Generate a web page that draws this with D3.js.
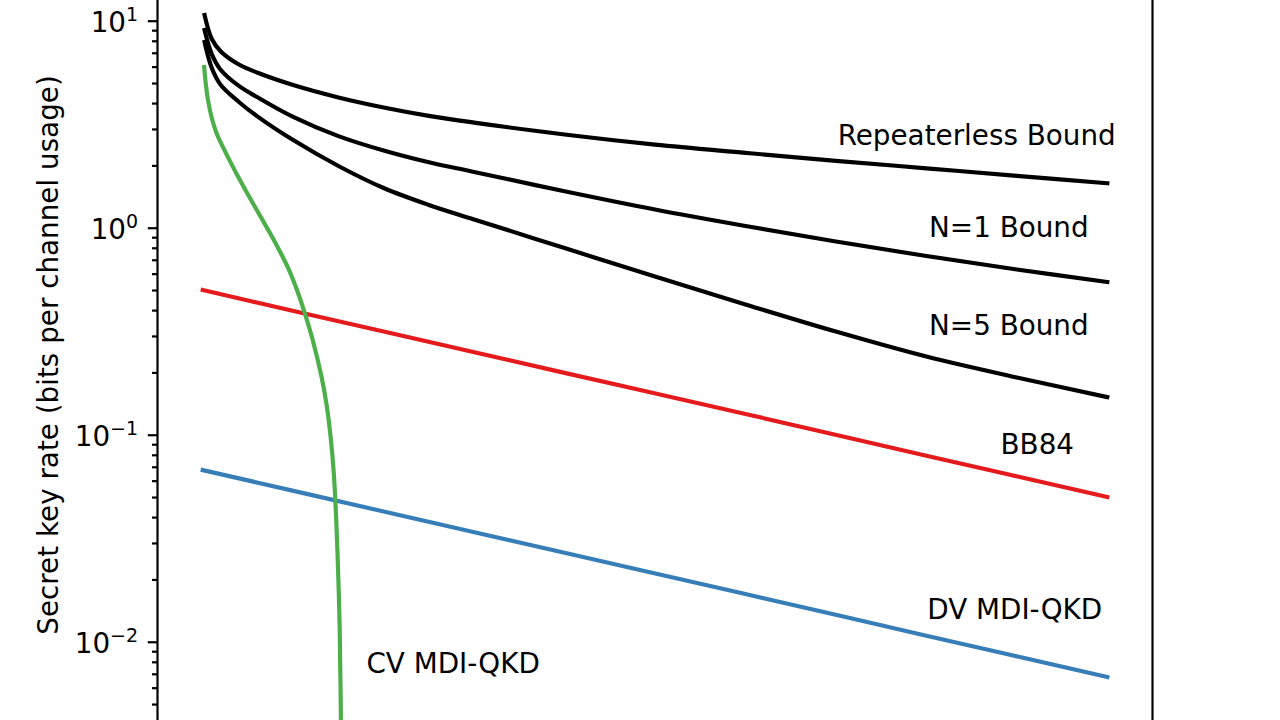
<!DOCTYPE html>
<html>
<head>
<meta charset="UTF-8">
<style>
  body { margin: 0; background: white; }
  svg { display: block; font-family: "DejaVu Sans", sans-serif; }
  .lbl { font-size: 27.8px; fill: black; }
  .tick text { font-size: 27.8px; fill: black; font-family: "DejaVu Sans", sans-serif; }
</style>
</head>
<body>
<svg></svg>
<script src="https://d3js.org/d3.v7.min.js"></script>
<script>

let width = 1280, height = 720;

// bounds, sampled along the (unlabelled) distance axis
let distance     = [0.1, 0.5, 1, 2, 3, 5, 7.5, 10, 12.5, 15, 20, 25, 30, 35, 40, 45, 50];
let repeaterless = [10.65, 8.16, 7.10, 6.14, 5.62, 4.89, 4.26, 3.81, 3.47, 3.22, 2.82, 2.52, 2.30, 2.105, 1.936, 1.781, 1.64];
let n1Bound      = [9.02, 6.90, 5.78, 4.84, 4.28, 3.43, 2.77, 2.36, 2.07, 1.86, 1.50, 1.224, 1.019, 0.858, 0.730, 0.628, 0.547];
let n5Bound      = [7.89, 5.91, 4.89, 4.05, 3.46, 2.65, 1.987, 1.555, 1.288, 1.096, 0.798, 0.581, 0.426, 0.315, 0.2386, 0.189, 0.152];

// protocols
let lineDist = [0, 10, 20, 30, 40, 50];
let bb84     = [0.5, 0.315, 0.199, 0.126, 0.0792, 0.05];
let dvMdi    = [0.0675, 0.0426, 0.0269, 0.0170, 0.0107, 0.00675];

let cvDist = [0.08, 0.17, 0.29, 0.50, 0.76, 1.10, 1.49, 2.04, 2.98, 3.87, 4.34, 4.81, 5.22, 5.64, 6.08, 6.57,
              6.85, 7.07, 7.24, 7.38, 7.49, 7.57, 7.62, 7.66, 7.69];
let cvMdi  = [5.97, 4.95, 4.14, 3.39, 2.87, 2.47, 2.11, 1.71, 1.22, 0.892, 0.746, 0.614, 0.497, 0.387, 0.287, 0.190,
              0.139, 0.0975, 0.0661, 0.0387, 0.0210, 0.0118, 0.00584, 0.00268, 0.00099];

// curve labels (data coords, left aligned)
let labelText = ["Repeaterless Bound", "N=1 Bound", "N=5 Bound", "BB84", "DV MDI-QKD", "CV MDI-QKD"];
let labelDist = [35.1, 40.15, 40.15, 44.1, 40.05, 9.05];
let labelRate = [2.51, 0.90, 0.303, 0.0807, 0.0129, 0.00706];

// y ticks
let majorTicks = [0.01, 0.1, 1, 10];
let majorExp   = ["\u22122", "\u22121", "0", "1"];
let minorTicks = [];
for (let k = -3; k <= 1; k++) {
  for (let m = 2; m <= 9; m++) minorTicks.push(m * Math.pow(10, k));
}

let svg = d3.select("svg")
    .attr("width", width)
    .attr("height", height);

// the figure is a crop: axes run past the top and bottom of the frame
let x = d3.scaleLinear()
    .domain([-2.5, 52.5])
    .range([157.5, 1152.5]);

let y = d3.scaleLog()
    .domain([Math.pow(10, -2.378), Math.pow(10, 1.1)])
    .range([height, 0]);

let lw = 4.17;

let line = d3.line()
    .x(d => x(d[0]))
    .y(d => y(d[1]))
    .curve(d3.curveCatmullRom.alpha(0.5));

let series = [
  { xs: distance, ys: repeaterless, color: "black" },
  { xs: distance, ys: n1Bound, color: "black" },
  { xs: distance, ys: n5Bound, color: "black" },
  { xs: lineDist, ys: bb84, color: "#e41a1c" },
  { xs: lineDist, ys: dvMdi, color: "#377eb8" },
  { xs: cvDist, ys: cvMdi, color: "#4daf4a" }
];

svg.append("g")
    .selectAll("path")
    .data(series)
    .enter()
    .append("path")
    .attr("d", s => line(s.xs.map((v, i) => [v, s.ys[i]])))
    .attr("fill", "none")
    .attr("stroke", s => s.color)
    .attr("stroke-width", lw)
    .attr("stroke-linejoin", "round")
    .attr("stroke-linecap", "square");

// labels
svg.append("g")
    .selectAll("text")
    .data(labelText)
    .enter()
    .append("text")
    .attr("class", "lbl")
    .attr("x", (d, i) => x(labelDist[i]))
    .attr("y", (d, i) => y(labelRate[i]))
    .text(d => d);

// minor ticks
svg.append("g")
    .attr("transform", `translate(${x.range()[0]},0)`)
    .call(d3.axisLeft(y).tickValues(minorTicks).tickSize(5.5).tickFormat(""))
    .call(g => g.select(".domain").remove())
    .call(g => g.selectAll("line").attr("stroke", "black").attr("stroke-width", 2.2));

// major ticks
let yAxis = svg.append("g")
    .attr("transform", `translate(${x.range()[0]},0)`)
    .call(d3.axisLeft(y).tickValues(majorTicks).tickSize(9.7).tickPadding(9.7));

yAxis.select(".domain").remove();
yAxis.selectAll("line").attr("stroke", "black").attr("stroke-width", 2.2);
yAxis.selectAll(".tick text")
    .attr("dy", "0.38em")
    .each(function(d, i) {
      let t = d3.select(this).text("");
      t.append("tspan").text("10");
      t.append("tspan").attr("dy", -10.5).style("font-size", "19px").text(majorExp[i]);
    });

// spines
svg.append("g")
    .selectAll("line")
    .data(x.range())
    .enter()
    .append("line")
    .attr("x1", d => d).attr("x2", d => d)
    .attr("y1", 0).attr("y2", height)
    .attr("stroke", "black")
    .attr("stroke-width", 2.2);

// y label
svg.append("text")
    .attr("class", "lbl")
    .attr("text-anchor", "middle")
    .attr("transform", "translate(58,355) rotate(-90)")
    .text("Secret key rate (bits per channel usage)");

</script>
</body>
</html>
